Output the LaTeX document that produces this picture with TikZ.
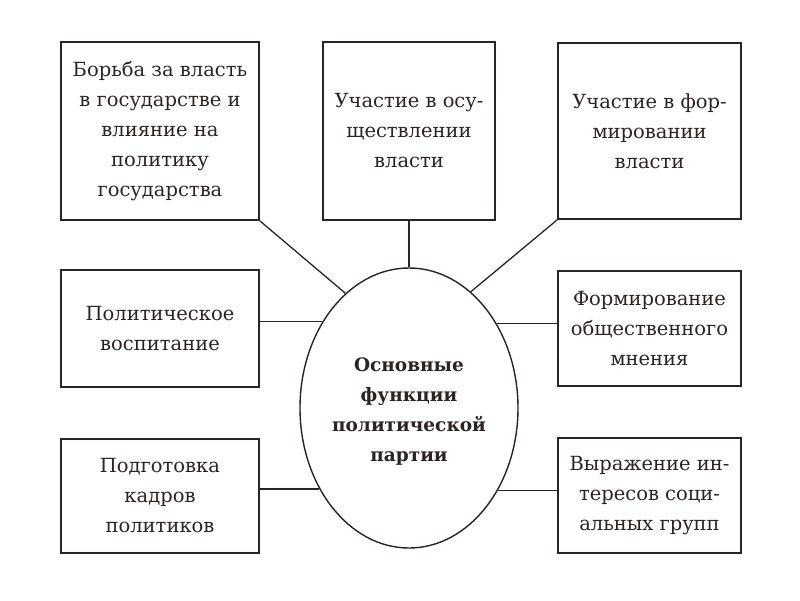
\documentclass[tikz,border=0pt]{standalone}
\usepackage{fontspec}
\setmainfont{DejaVu Serif}
\usetikzlibrary{shapes.geometric}
\definecolor{ink}{HTML}{2B2422}
\begin{document}
\begin{tikzpicture}[x=1pt,y=-1pt,
  box/.style={draw=ink, line width=1.7pt, align=center, text=ink,
    font=\fontsize{19.5}{30}\selectfont, inner sep=0pt},
  link/.style={draw=ink, line width=1.3pt}]
\useasboundingbox (0,0) rectangle (800,600);
\fill[white] (0,0) rectangle (800,600);
\node[box, minimum width=198pt, minimum height=178pt] (tl) at (160,131)
  {Борьба за власть\\в государстве и\\влияние на\\политику\\государства};
\node[box, minimum width=172pt, minimum height=178pt] (tm) at (409,131)
  {Участие в осу-\\ществлении\\власти};
\node[box, minimum width=183pt, minimum height=176pt] (tr) at (649.5,131)
  {Участие в фор-\\мировании\\власти};
\node[box, minimum width=198pt, minimum height=117pt] (ml) at (160,328.5)
  {Политическое\\воспитание};
\node[box, minimum width=183pt, minimum height=115pt] (mr) at (649.5,328.5)
  {Формирование\\общественного\\мнения};
\node[box, minimum width=198pt, minimum height=114pt] (bl) at (160,496)
  {Подготовка\\кадров\\политиков};
\node[box, minimum width=183pt, minimum height=115pt] (br) at (649.5,495.5)
  {Выражение ин-\\тересов соци-\\альных групп};
\node[box, ellipse, line width=1.4pt, minimum width=218pt, minimum height=280pt,
  font=\bfseries\fontsize{18.5}{30}\selectfont] (el) at (409,408) {};
\node[font=\bfseries\fontsize{18.5}{30}\selectfont, text=ink, align=center, inner sep=0pt]
  (eltext) at (409,412) {Основные\\функции\\политической\\партии};
\draw[link] (tl.south east) -- (el.119);
\draw[link] (tm.south) -- (el.north);
\draw[link] (tr.south west) -- (el.62);
\draw[link] (el.135.5) -- (el.135.5 -| ml.east);
\draw[link] (el.44.5) -- (el.44.5 -| mr.west);
\draw[link] (el.222.8) -- (el.222.8 -| bl.east);
\draw[link] (el.317.2) -- (el.317.2 -| br.west);
\end{tikzpicture}
\end{document}
